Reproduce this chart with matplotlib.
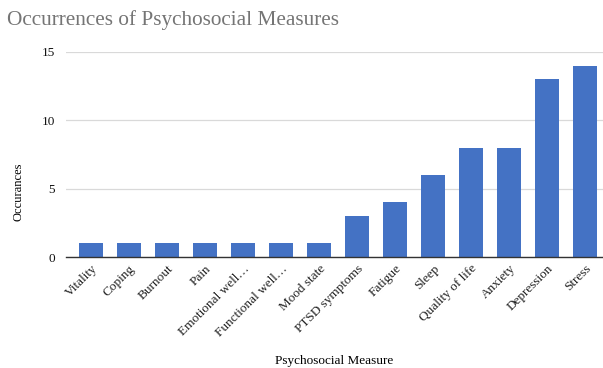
import numpy as np
import matplotlib.pyplot as plt

# medidas y cuantas veces aparecen
measures = ['Vitality', 'Coping', 'Burnout', 'Pain', 'Emotional well…',
            'Functional well…', 'Mood state', 'PTSD symptoms', 'Fatigue',
            'Sleep', 'Quality of life', 'Anxiety', 'Depression', 'Stress']
counts = [1, 1, 1, 1, 1, 1, 1, 3, 4, 6, 8, 8, 13, 14]
yticks = [0, 5, 10, 15]

plt.rcParams['font.family'] = ['Liberation Serif', 'DejaVu Serif']

fig = plt.figure(figsize=(6.03, 3.68), dpi=100)
ax = fig.add_axes([66 / 603, 1 - 257 / 368, 1 - 66 / 603, (257 - 52) / 368])

x = np.arange(len(measures))
ax.bar(x, counts, width=0.63, color='#4472c4', zorder=3)

ax.set_xlim(-0.66, len(measures) - 1 + 0.47)
ax.set_ylim(0, 15)
ax.set_yticks(yticks)
ax.set_yticklabels([str(t) for t in yticks], fontsize=9.5, color='#111111')
ax.set_xticks(x)
ax.set_xticklabels(measures, rotation=45, ha='right', rotation_mode='anchor',
                   fontsize=9.5, color='#222222')
ax.tick_params(axis='both', length=0, pad=8)
ax.tick_params(axis='x', pad=4)

# lineas de grilla
ax.grid(True, axis='y', color='#d9d9d9', linewidth=0.9, zorder=0)
for s in ['top', 'right', 'left']:
    ax.spines[s].set_visible(False)
ax.spines['bottom'].set_color('#333333')
ax.spines['bottom'].set_linewidth(1.0)
ax.spines['bottom'].set_zorder(4)

ax.set_ylabel('Occurances', fontsize=9, labelpad=14)
ax.yaxis.set_label_coords(-41 / 537, 0.32)
ax.set_xlabel('Psychosocial Measure', fontsize=9.5)
ax.xaxis.set_label_coords(0.5, -(355 - 257) / 205)

fig.text(7 / 603, 1 - 20 / 368, 'Occurrences of Psychosocial Measures',
         fontsize=15.3, color='#757575', va='center', ha='left')

fig.savefig('out.png', dpi=100)
